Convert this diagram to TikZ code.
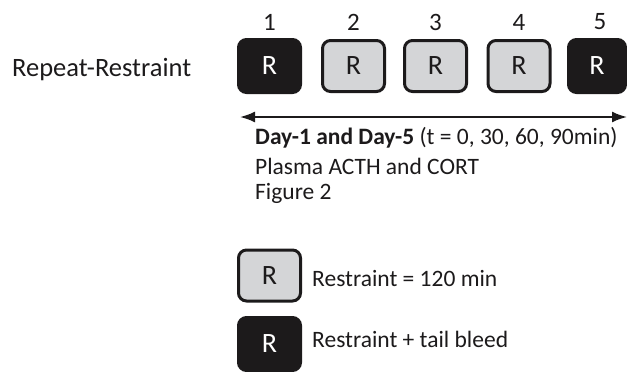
\documentclass[tikz,border=0pt]{standalone}
\usepackage{fontspec}
\setmainfont{Carlito}
\usetikzlibrary{arrows.meta}
\definecolor{boxgray}{HTML}{D4D5D7}
\definecolor{boxblack}{HTML}{1C1A1B}
\tikzset{
  blackbox/.style={fill=boxblack, draw=boxblack, line width=3pt, rounded corners=8pt,
    minimum width=62pt, minimum height=53pt, inner sep=0pt, text=white,
    font=\fontsize{28}{30}\selectfont},
  graybox/.style={fill=boxgray, draw=boxblack, line width=3pt, rounded corners=8pt,
    minimum width=62pt, minimum height=51pt, inner sep=0pt, text=boxblack,
    font=\fontsize{28}{30}\selectfont},
  lbl/.style={text=boxblack, font=\fontsize{23.5}{28}\selectfont, inner sep=0pt},
  numlbl/.style={text=boxblack, font=\fontsize{25}{28}\selectfont, inner sep=0pt},
}
\begin{document}
\begin{tikzpicture}[x=1pt,y=-1pt]
\useasboundingbox (0,0) rectangle (627,372);
\clip (0,0) rectangle (627,372);
\node[lbl, anchor=west, font=\fontsize{26.5}{30}\selectfont] (title) at (12,70) {Repeat-Restraint};
\node[blackbox] (b1) at (269.5,66) {R};
\node[graybox] (b2) at (353.5,66) {R};
\node[graybox] (b3) at (435.5,66) {R};
\node[graybox] (b4) at (519,66) {R};
\node[blackbox, minimum width=57pt] (b5) at (597,66) {R};
\node[numlbl] (n1) at (b1 |- 0,22) {1};
\node[numlbl] (n2) at (b2 |- 0,22) {2};
\node[numlbl] (n3) at (b3 |- 0,22) {3};
\node[numlbl] (n4) at (b4 |- 0,22) {4};
\node[numlbl] (n5) at (600,22) {5};
\coordinate (aL) at (240,117);
\coordinate (aR) at (627,117);
\draw[line width=2pt, boxblack, {Latex[length=15pt,width=11pt]}-{Latex[length=15pt,width=11pt]}] (aL) -- (aR);
\node[lbl, anchor=west] (t1) at (255,138) {\textbf{Day-1 and Day-5} (t = 0, 30, 60, 90min)};
\node[lbl, anchor=west] (t2) at (255,166) {Plasma ACTH and CORT};
\node[lbl, anchor=west] (t3) at (255,193) {Figure 2};
\node[graybox] (lg) at (269.5,275.5) {R};
\node[lbl, anchor=west] (lgt) at (312,278) {Restraint = 120 min};
\node[blackbox] (lb) at (269.5,344) {R};
\node[lbl, anchor=west] (lbt) at (312,339) {Restraint + tail bleed};
\end{tikzpicture}
\end{document}
